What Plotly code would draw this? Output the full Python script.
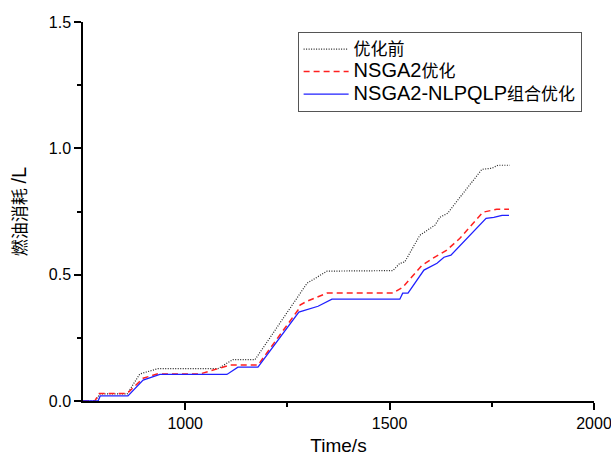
import plotly.graph_objects as go

t_before = [750, 779, 792, 858, 889, 933, 1080, 1117, 1171, 1298, 1347, 1508, 1525, 1537, 1574, 1611, 1623, 1642, 1672, 1726, 1750, 1765, 1794]
v_before = [0, 0, 0.028, 0.028, 0.107, 0.128, 0.128, 0.164, 0.164, 0.466, 0.514, 0.516, 0.545, 0.55, 0.656, 0.696, 0.727, 0.743, 0.806, 0.917, 0.921, 0.933, 0.933]

t_nsga2 = [750, 779, 790, 858, 897, 931, 1036, 1085, 1110, 1178, 1276, 1281, 1298, 1347, 1508, 1532, 1579, 1606, 1640, 1672, 1728, 1762, 1792]
v_nsga2 = [0, 0, 0.03, 0.03, 0.09, 0.107, 0.107, 0.13, 0.142, 0.142, 0.36, 0.38, 0.395, 0.427, 0.427, 0.45, 0.537, 0.565, 0.597, 0.644, 0.747, 0.759, 0.759]

t_combo = [750, 787, 792, 860, 897, 938, 1102, 1129, 1178, 1278, 1325, 1359, 1525, 1532, 1545, 1584, 1616, 1633, 1650, 1694, 1736, 1755, 1775, 1792]
v_combo = [0, 0, 0.02, 0.02, 0.083, 0.105, 0.105, 0.134, 0.134, 0.352, 0.375, 0.403, 0.403, 0.427, 0.427, 0.518, 0.545, 0.569, 0.577, 0.652, 0.723, 0.727, 0.735, 0.735]

names = ["优化前", "NSGA2优化", "NSGA2-NLPQLP组合优化"]

FONT = "Liberation Sans, Arial, Noto Sans CJK SC, sans-serif"


def mixed(label, latin=20, cjk=17):
    out, buf, cur = [], "", None
    for ch in label:
        kind = "c" if ord(ch) > 0x2e80 else "l"
        if cur is not None and kind != cur:
            out.append((cur, buf))
            buf = ""
        cur = kind
        buf += ch
    if buf:
        out.append((cur, buf))
    return "".join(
        f"<span style='font-size:{cjk if k == 'c' else latin}px'>{s}</span>" for k, s in out
    )


fig = go.Figure()
fig.add_trace(go.Scatter(x=t_before, y=v_before, mode="lines", name=mixed(names[0]),
                         line=dict(color="#222222", width=1.2, dash="1px,1.5px")))
fig.add_trace(go.Scatter(x=t_nsga2, y=v_nsga2, mode="lines", name=mixed(names[1]),
                         line=dict(color="#ff2020", width=1.5, dash="6px,4px")))
fig.add_trace(go.Scatter(x=t_combo, y=v_combo, mode="lines", name=mixed(names[2]),
                         line=dict(color="#2020ff", width=1.3)))

fig.update_layout(
    width=611, height=456,
    margin=dict(l=83, r=17, t=22, b=55),
    paper_bgcolor="white", plot_bgcolor="white",
    font=dict(family=FONT, size=16, color="black"),
    showlegend=True,
    legend=dict(x=0.42, y=0.974, xanchor="left", yanchor="top",
                bordercolor="#555555", borderwidth=1, bgcolor="white",
                font=dict(size=15), tracegroupgap=0, itemwidth=45),
    xaxis=dict(range=[750, 2000], tickvals=[1000, 1500, 2000], automargin=False,
               ticklabeloverflow="allow",
               showgrid=False, zeroline=False, showline=True, linecolor="black", linewidth=1.5,
               ticks="outside", ticklen=7, tickwidth=1.5, tickcolor="black",
               minor=dict(tickvals=[1250, 1750], ticks="outside", ticklen=4, tickwidth=1.5, tickcolor="black"),
               title=dict(text="Time/s", font=dict(size=19), standoff=19)),
    yaxis=dict(range=[0, 1.5], tickvals=[0, 0.5, 1.0, 1.5], ticktext=["0.0", "0.5", "1.0", "1.5"],
               automargin=False,
               showgrid=False, zeroline=False, showline=True, linecolor="black", linewidth=1.5,
               ticks="outside", ticklen=7, tickwidth=1.5, tickcolor="black",
               minor=dict(tickvals=[0.25, 0.75, 1.25], ticks="outside", ticklen=4, tickwidth=1.5, tickcolor="black"),
               title=dict(text="燃油消耗 <span style='font-size:20px'>/L</span>", font=dict(size=17), standoff=18)),
)

fig.write_html("out.html")
